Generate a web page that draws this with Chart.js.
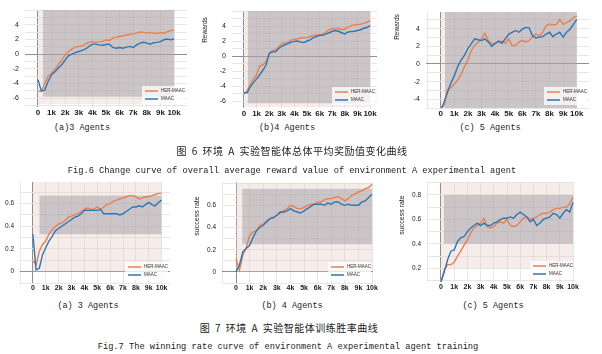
<!DOCTYPE html>
<html>
<head>
<meta charset="utf-8">
<script src="https://cdn.jsdelivr.net/npm/chart.js@4"></script>
<style>
  body { margin: 0; background: #fff; width: 602px; height: 354px; position: relative; overflow: hidden; }
  .box { position: absolute; }
  .cap { position: absolute; transform: translate(-50%, -50%); white-space: nowrap; color: #222;
         font-family: "Liberation Mono", "Noto Sans CJK SC", monospace; font-size: 8.5px; }
  .cn { font-family: "Noto Sans CJK SC", sans-serif; font-size: 10px; letter-spacing: 0.5px; word-spacing: 2px; }
  .en { font-size: 8.7px; }
  .ytitle { position: absolute; transform: translate(-50%, -50%) rotate(-90deg); white-space: nowrap;
            font-family: "Liberation Sans", Arial, sans-serif; color: #222; }
</style>
</head>
<body>
<div class="box" style="left:0;top:0;width:195px;height:122px"><canvas id="rewardA"></canvas></div>
<div class="box" style="left:196px;top:0;width:190px;height:122px"><canvas id="rewardB"></canvas></div>
<div class="box" style="left:396px;top:0;width:206px;height:122px"><canvas id="rewardC"></canvas></div>
<div class="box" style="left:0;top:176px;width:190px;height:120px"><canvas id="winA"></canvas></div>
<div class="box" style="left:196px;top:176px;width:190px;height:120px"><canvas id="winB"></canvas></div>
<div class="box" style="left:396px;top:176px;width:206px;height:120px"><canvas id="winC"></canvas></div>

<div class="ytitle" style="left:204px;top:30px;font-size:6.5px">Rewards</div>
<div class="ytitle" style="left:396px;top:27px;font-size:6.5px">Rewards</div>
<div class="ytitle" style="left:196px;top:216px;font-size:7px">success rate</div>
<div class="ytitle" style="left:401px;top:215px;font-size:7px">success rate</div>

<div class="cap" style="left:82px;top:128px">(a)3 Agents</div>
<div class="cap" style="left:287px;top:128px">(b)4 Agents</div>
<div class="cap" style="left:490px;top:128px">(c) 5 Agents</div>
<div class="cap cn" style="left:292px;top:150px">图 6 环境 A 实验智能体总体平均奖励值变化曲线</div>
<div class="cap en" style="left:292px;top:171px">Fig.6 Change curve of overall average reward value of environment A experimental agent</div>
<div class="cap" style="left:88px;top:306px">(a) 3 Agents</div>
<div class="cap" style="left:292px;top:306px">(b) 4 Agents</div>
<div class="cap" style="left:493px;top:306px">(c) 5 Agents</div>
<div class="cap cn" style="left:289px;top:327px">图 7 环境 A 实验智能体训练胜率曲线</div>
<div class="cap en" style="left:288px;top:347px">Fig.7 The winning rate curve of environment A experimental agent training</div>

<script>
// training steps (x values shared by every curve)
const steps = [0, 250, 500, 750, 1000, 1250, 1500, 1750, 2000, 2250, 2500, 2750, 3000, 3250, 3500, 3750,
  4000, 4250, 4500, 4750, 5000, 5250, 5500, 5750, 6000, 6250, 6500, 6750, 7000, 7250, 7500, 7750,
  8000, 8250, 8500, 8750, 9000, 9250, 9500, 9750, 10000];

const xTickValues = [0, 1000, 2000, 3000, 4000, 5000, 6000, 7000, 8000, 9000, 10000];
const xTickText = ['0', '1k', '2k', '3k', '4k', '5k', '6k', '7k', '8k', '9k', '10k'];
const rewardTicks = [-6, -4, -2, 0, 2, 4];
const rewardTicks5 = [-4, -2, 0, 2, 4];
const winTicks = [0, 0.2, 0.4, 0.6];
const winTicks5 = [0.2, 0.4, 0.6, 0.8];

// Fig.6 average reward
const rewardHer3 = [-5.0, -5.1, -4.0, -3.0, -2.6, -2.1, -1.45, -0.8, -0.1, 0.35, 0.7, 0.95, 1.05, 1.1, 1.4, 1.6,
  1.7, 1.6, 1.7, 1.7, 1.95, 1.85, 2.2, 2.3, 2.4, 2.5, 2.6, 2.7, 2.75, 2.85, 3.0, 2.95,
  2.85, 2.95, 2.85, 2.8, 2.95, 2.85, 3.05, 3.2, 3.3];
const rewardMaac3 = [-3.5, -5.0, -4.9, -3.7, -2.8, -2.4, -1.9, -1.45, -0.8, -0.2, 0, 0.2, 0.35, 0.5, 0.7, 1.05,
  1.35, 1.35, 1.25, 1.2, 1.3, 1.35, 0.9, 0.8, 0.9, 0.8, 0.95, 1.05, 0.9, 1.25, 1.5, 1.6,
  1.5, 1.35, 1.55, 1.6, 1.7, 1.95, 2.05, 1.95, 2.05];
const rewardHer4 = [-5.1, -4.65, -3.8, -3.1, -2.5, -1.3, -1.2, -0.75, 0.35, 0.7, 0.8, 1.2, 1.65, 1.75, 1.85, 2.15,
  2.2, 2.3, 2.4, 2.45, 2.45, 2.6, 2.75, 2.8, 2.85, 2.95, 3.2, 3.5, 3.7, 3.6, 3.7, 3.5,
  3.6, 3.8, 4.05, 4.15, 4.2, 4.25, 4.35, 4.5, 4.7];
const rewardMaac4 = [-4.9, -4.9, -4.1, -3.55, -3.05, -2.5, -1.9, -1.2, 0.35, 0.55, 0.55, 1.0, 1.3, 1.5, 1.65, 1.85,
  1.95, 2.0, 1.85, 1.8, 2.0, 2.15, 2.45, 2.6, 2.75, 2.75, 2.95, 3.1, 3.3, 3.4, 3.3, 3.1,
  2.95, 3.2, 3.25, 3.3, 3.4, 3.5, 3.7, 3.8, 4.05];
const rewardHer5 = [-5.2, -4.7, -2.9, -2.7, -2.3, -1.8, -1.2, -0.3, 0.45, 1.55, 2.1, 2.5, 2.85, 3.5, 2.65, 2.3,
  2.3, 2.5, 2.6, 2.35, 2.85, 2.1, 2.1, 2.5, 2.65, 2.5, 2.65, 3.1, 3.4, 3.2, 3.6, 4.35,
  4.5, 4.45, 4.5, 5.05, 4.5, 4.7, 4.9, 5.25, 5.45];
const rewardMaac5 = [-5.2, -4.35, -3.25, -2.15, -1.35, -0.3, 0.45, 1.0, 1.75, 2.3, 2.85, 2.75, 2.65, 2.85, 2.5, 2.0,
  2.35, 2.6, 2.35, 2.85, 3.4, 3.6, 3.8, 3.6, 3.95, 4.15, 4.1, 3.2, 2.95, 3.05, 3.1, 3.4,
  3.6, 3.1, 3.4, 3.6, 3.05, 3.6, 3.95, 4.5, 5.05];

// Fig.7 success rate
const winHer3 = [0.1, 0.06, 0.18, 0.24, 0.27, 0.33, 0.37, 0.40, 0.42, 0.43, 0.45, 0.48, 0.49, 0.50, 0.51, 0.53,
  0.55, 0.56, 0.55, 0.55, 0.57, 0.55, 0.57, 0.59, 0.60, 0.62, 0.63, 0.64, 0.65, 0.66, 0.67, 0.67,
  0.66, 0.64, 0.65, 0.66, 0.66, 0.67, 0.68, 0.69, 0.69];
const winMaac3 = [0.33, 0.015, 0.03, 0.15, 0.21, 0.27, 0.31, 0.36, 0.38, 0.40, 0.42, 0.44, 0.46, 0.48, 0.49, 0.51,
  0.54, 0.54, 0.54, 0.54, 0.54, 0.55, 0.51, 0.51, 0.51, 0.51, 0.51, 0.50, 0.51, 0.53, 0.55, 0.57,
  0.57, 0.58, 0.57, 0.59, 0.61, 0.59, 0.58, 0.61, 0.63];
const winHer4 = [0.12, 0.015, 0.15, 0.22, 0.33, 0.36, 0.37, 0.42, 0.43, 0.46, 0.48, 0.49, 0.51, 0.53, 0.55, 0.57,
  0.60, 0.59, 0.57, 0.57, 0.58, 0.60, 0.61, 0.61, 0.63, 0.63, 0.65, 0.66, 0.66, 0.67, 0.68, 0.66,
  0.64, 0.66, 0.69, 0.70, 0.72, 0.73, 0.75, 0.76, 0.79];
const winMaac4 = [0.0, 0.06, 0.18, 0.21, 0.24, 0.31, 0.37, 0.40, 0.42, 0.45, 0.48, 0.49, 0.51, 0.54, 0.54, 0.55,
  0.57, 0.55, 0.54, 0.53, 0.55, 0.57, 0.59, 0.61, 0.61, 0.61, 0.60, 0.62, 0.61, 0.63, 0.63, 0.61,
  0.60, 0.61, 0.60, 0.60, 0.60, 0.63, 0.64, 0.67, 0.70];
const winHer5 = [0.09, 0.19, 0.23, 0.23, 0.25, 0.30, 0.34, 0.39, 0.43, 0.49, 0.53, 0.55, 0.57, 0.61, 0.54, 0.53,
  0.54, 0.57, 0.58, 0.57, 0.60, 0.55, 0.54, 0.55, 0.58, 0.61, 0.62, 0.60, 0.61, 0.62, 0.64, 0.65,
  0.65, 0.66, 0.68, 0.69, 0.69, 0.70, 0.70, 0.73, 0.78];
const winMaac5 = [0.09, 0.17, 0.27, 0.34, 0.35, 0.42, 0.45, 0.46, 0.50, 0.53, 0.55, 0.57, 0.55, 0.57, 0.55, 0.55,
  0.57, 0.58, 0.60, 0.61, 0.61, 0.62, 0.61, 0.64, 0.66, 0.64, 0.62, 0.58, 0.60, 0.55, 0.57, 0.60,
  0.61, 0.62, 0.65, 0.64, 0.61, 0.65, 0.68, 0.66, 0.74];

// spread of the runs, as [from step, low, high]: faint outer range and darker inner range
const outerSpread = [[0, -6.8, 6], [0, -6.8, 6], [0, -5, 6], [0, 0, 0.8], [0, 0, 0.8], [0, 0.2, 0.9]];
const innerSpread = [[350, -5.8, 6], [300, -6.3, 6], [300, -5, 6], [500, 0.33, 0.67], [450, 0.25, 0.75], [200, 0.4, 0.8]];

const herColor = '#e8804f';
const maacColor = '#2e76b4';

// small legend in the lower right corner of the plot
const cornerLegend = {
  id: 'cornerLegend',
  afterDatasetsDraw(chart) {
    const { ctx, chartArea: a } = chart;
    const items = chart.data.datasets.filter(d => d.label);
    ctx.save();
    ctx.fillStyle = 'rgba(255,255,255,0.75)';
    ctx.fillRect(a.right - 45, a.bottom - 21, 43, 18);
    ctx.font = '4.5px "Liberation Sans", Arial, sans-serif';
    ctx.textBaseline = 'middle';
    items.forEach((d, i) => {
      const y = a.bottom - 16 + i * 8;
      ctx.strokeStyle = d.borderColor;
      ctx.lineWidth = 1.5;
      ctx.beginPath();
      ctx.moveTo(a.right - 42, y);
      ctx.lineTo(a.right - 29, y);
      ctx.stroke();
      ctx.fillStyle = '#333';
      ctx.fillText(d.label, a.right - 26, y);
    });
    ctx.restore();
  }
};

function gridValues(min, max, step) {
  const out = [];
  for (let k = Math.ceil(min / step - 1e-9); k * step <= max + 1e-9; k++) out.push(+(k * step).toFixed(2));
  return out;
}

const panels = [
  { id: 'rewardA', her: rewardHer3, maac: rewardMaac3, x: [-950, 10950], y: [-7.2, 6], yTicks: rewardTicks, yStep: 1,
    axisW: 25, top: 10, right: 8, xH: 15, xFont: 8, yFont: 7, spread: 0 },
  { id: 'rewardB', her: rewardHer4, maac: rewardMaac4, x: [-950, 10550], y: [-6.93, 6], yTicks: rewardTicks, yStep: 1,
    axisW: 36, top: 11, right: 9, xH: 14, xFont: 8, yFont: 7, spread: 1 },
  { id: 'rewardC', her: rewardHer5, maac: rewardMaac5, x: [-1080, 10900], y: [-5, 5.9], yTicks: rewardTicks5, yStep: 1,
    axisW: 30, top: 12, right: 13, xH: 14, xFont: 8, yFont: 7, spread: 2 },
  { id: 'winA', her: winHer3, maac: winMaac3, x: [-1000, 10650], y: [-0.1, 0.79], yTicks: winTicks, yStep: 0.1,
    axisW: 20, top: 6, right: 20, xH: 13, xFont: 7, yFont: 6.5, spread: 3 },
  { id: 'winB', her: winHer4, maac: winMaac4, x: [-1030, 10070], y: [-0.1, 0.81], yTicks: winTicks, yStep: 0.1,
    axisW: 26, top: 6, right: 13, xH: 13, xFont: 7, yFont: 6.5, spread: 4 },
  { id: 'winC', her: winHer5, maac: winMaac5, x: [-1060, 10150], y: [0.088, 0.906], yTicks: winTicks5, yStep: 0.1,
    axisW: 31, top: 6, right: 27, xH: 14, xFont: 7, yFont: 6.5, spread: 5 }
];

const points = arr => steps.map((s, i) => ({ x: s, y: arr[i] }));
const flat = (from, v) => [{ x: from, y: v }, { x: 10000, y: v }];
const gridColor = c => (c.tick && c.tick.value === 0 ? '#8f8f8f' : '#e6e6e6');

panels.forEach(p => {
  const o = outerSpread[p.spread];
  const inn = innerSpread[p.spread];
  const bandStyle = { borderWidth: 0, pointRadius: 0 };
  new Chart(document.getElementById(p.id), {
    type: 'line',
    data: {
      datasets: [
        { ...bandStyle, data: flat(o[0], o[2]), fill: false, order: 4 },
        { ...bandStyle, data: flat(o[0], o[1]), fill: '-1', backgroundColor: 'rgba(228,200,196,0.35)', order: 4 },
        { ...bandStyle, data: flat(inn[0], inn[2]), fill: false, order: 3 },
        { ...bandStyle, data: flat(inn[0], inn[1]), fill: '-1', backgroundColor: 'rgba(150,150,158,0.45)', order: 3 },
        { label: 'HER-MAAC', data: points(p.her), borderColor: herColor, borderWidth: 1.4, pointRadius: 0, fill: false, order: 1 },
        { label: 'MAAC', data: points(p.maac), borderColor: maacColor, borderWidth: 1.4, pointRadius: 0, fill: false, order: 0 }
      ]
    },
    options: {
      responsive: true,
      maintainAspectRatio: false,
      animation: false,
      layout: { autoPadding: false, padding: { top: p.top, right: p.right, left: 0, bottom: 0 } },
      plugins: { legend: { display: false }, tooltip: { enabled: false } },
      scales: {
        x: {
          type: 'linear',
          min: p.x[0],
          max: p.x[1],
          afterBuildTicks: s => { s.ticks = gridValues(p.x[0], p.x[1], 1000).map(v => ({ value: v })); },
          afterFit: s => { s.height = p.xH; s.paddingLeft = 0; s.paddingRight = 0; },
          border: { display: false },
          grid: { color: gridColor, drawTicks: false },
          ticks: {
            autoSkip: false, maxRotation: 0, padding: 1, color: '#1a1a1a',
            font: { family: '"Liberation Sans", Arial, sans-serif', size: p.xFont, weight: 'bold' },
            callback: v => { const i = xTickValues.indexOf(v); return i < 0 ? '' : xTickText[i]; }
          }
        },
        y: {
          min: p.y[0],
          max: p.y[1],
          afterBuildTicks: s => { s.ticks = gridValues(p.y[0], p.y[1], p.yStep).map(v => ({ value: v })); },
          afterFit: s => { s.width = p.axisW; s.paddingTop = 0; s.paddingBottom = 0; },
          border: { display: false },
          grid: { color: gridColor, drawTicks: false },
          ticks: {
            autoSkip: false, padding: 6, color: '#1a1a1a',
            font: { family: '"Liberation Sans", Arial, sans-serif', size: p.yFont },
            callback: v => (p.yTicks.includes(v) ? String(v) : '')
          }
        }
      }
    },
    plugins: [cornerLegend]
  });
});
</script>
</body>
</html>
